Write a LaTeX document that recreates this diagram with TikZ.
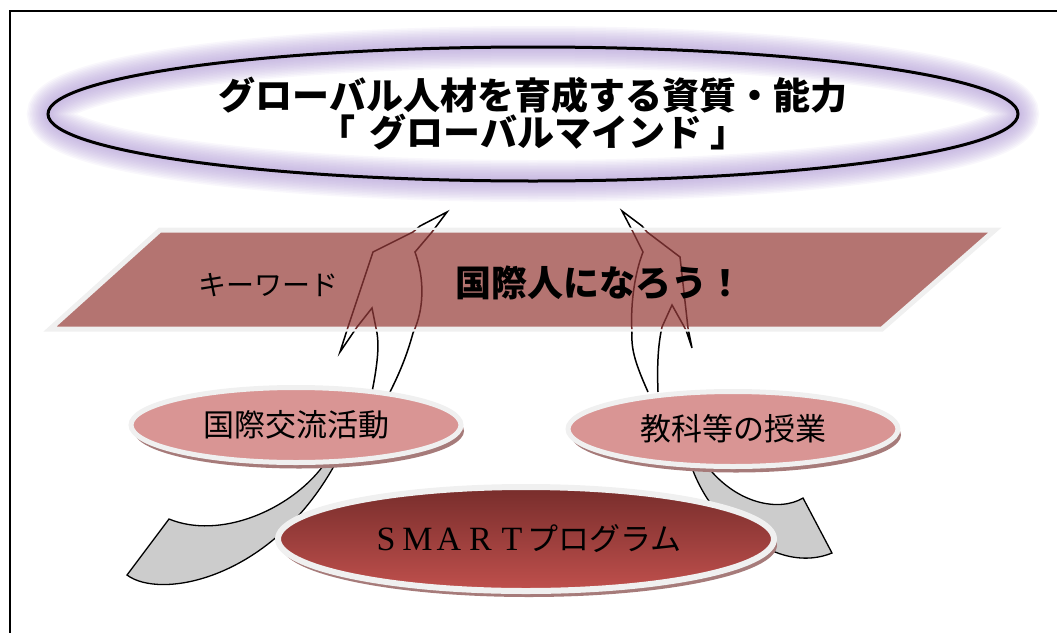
\documentclass[tikz,border=0pt]{standalone}
\usepackage{fontspec}
\setmainfont{Liberation Serif}
\newfontfamily\jp{Noto Sans CJK JP}
\usetikzlibrary{shapes.geometric,shadows}
\definecolor{glowc}{HTML}{AE98D4}
\definecolor{bandc}{HTML}{B47471}
\definecolor{rimc}{HTML}{F0F0F0}
\definecolor{pinkc}{HTML}{D99594}
\definecolor{shadc}{HTML}{A67B7A}
\definecolor{darkredc}{HTML}{772D2B}
\definecolor{redc}{HTML}{C0504D}
\definecolor{inlinec}{HTML}{6B2A2A}
\definecolor{grayc}{HTML}{CCCCCC}
\newcommand\fwl[1]{\makebox[31.5pt]{#1}}
\begin{document}
\begin{tikzpicture}[x=1pt,y=-1pt,
  goalnode/.style={ellipse, draw=black, line width=3pt, minimum width=970pt,
    minimum height=134pt, inner sep=0pt, align=center,
    font=\jp\bfseries\fontsize{37pt}{37pt}\selectfont},
  glowline/.style={draw=glowc, line width=#1},
  actnode/.style={ellipse, fill=pinkc, draw=rimc, line width=5pt,
    minimum width=330pt, minimum height=75pt, inner sep=0pt,
    drop shadow={shadow xshift=3pt, shadow yshift=-6pt, fill=shadc, opacity=1},
    font=\jp\fontsize{31pt}{31pt}\selectfont},
  smartnode/.style={ellipse, top color=darkredc, bottom color=redc, draw=rimc,
    line width=6pt, minimum width=496pt, minimum height=104pt, inner sep=0pt,
    drop shadow={shadow xshift=3pt, shadow yshift=-6pt, fill=shadc, opacity=1}},
  bandtext/.style={inner sep=0pt, font=\jp\fontsize{28pt}{28pt}\selectfont},
  bandtitle/.style={inner sep=0pt, font=\jp\bfseries\fontsize{36pt}{36pt}\selectfont},
  outlinearrow/.style={draw=black, line width=1.5pt, line join=miter},
  grayarrow/.style={fill=grayc, draw=black, line width=1.3pt},
  arrowApath/.style={insert path={
    (372,392) .. controls (378,362) and (379,345) .. (377,333) -- (372,308)
    -- (357,327) -- (340,352) -- (348,327) -- (373,252) -- (413,232)
    -- (420,226) -- (447,212) -- (432,232) -- (415,252)
    .. controls (425,280) and (424,310) .. (413,333)
    .. controls (407,355) and (400,372) .. (390,392)}},
  arrowBpath/.style={insert path={
    (648,392) .. controls (636,365) and (631,350) .. (632,333)
    .. controls (630,300) and (636,270) .. (643,252) -- (633,232)
    -- (622,211) -- (642,226) -- (647,232) -- (680,257) -- (688,328)
    -- (692,348) -- (686,330) -- (672,305) -- (662,327)
    .. controls (658,345) and (657,365) .. (658,392)}}
]
\useasboundingbox (0,0) rectangle (1057,632);
% frame
\draw[line width=2pt] (10,650) -- (10,11) -- (1070,11);

% soft glow of the top ellipse
\foreach \i in {1,...,14} {
  \draw[glowline=3*\i pt, opacity=0.075] (533,114) ellipse [x radius=485, y radius=67];
}
\node[goalnode] (goal) at (533,114)
  {グローバル人材を育成する資質・能力\\「\hspace{14pt}グローバルマインド\hspace{8pt}」};

% curved outline arrows
\draw[outlinearrow, arrowApath];
\draw[outlinearrow, arrowBpath];

% keyword band
\coordinate (p1) at (160,230);
\coordinate (p2) at (995,230);
\coordinate (p3) at (882,329);
\coordinate (p4) at (50,329);
\draw[fill=bandc, draw=rimc, line width=5pt] (p1) -- (p2) -- (p3) -- (p4) -- cycle;
\begin{scope}
  \clip (p1) -- (p2) -- (p3) -- (p4) -- cycle;
  \draw[outlinearrow, draw=inlinec, arrowApath];
  \draw[outlinearrow, draw=inlinec, arrowBpath];
\end{scope}
\node[bandtext] (kw) at (268,285) {キーワード};
\node[bandtitle] (kt) at (599,283) {国際人になろう！};

% gray curved arrows
\draw[grayarrow] (323,466) .. controls (290,510) and (220,540) .. (169,519)
  -- (127,575) .. controls (160,600) and (270,580) .. (334,466) -- cycle;
\draw[grayarrow] (690,462) .. controls (700,495) and (730,540) .. (775,552)
  .. controls (795,560) and (815,560) .. (832,553) -- (803,498)
  .. controls (780,512) and (735,505) .. (704,462) -- cycle;

% activity ellipses
\node[actnode] (intl) at (296,425) {国際交流活動};
\node[actnode] (cls) at (733,429) {教科等の授業};

% SMART program
\node[smartnode] (smart) at (526,539)
  {\raisebox{-8pt}{\fontsize{34pt}{34pt}\selectfont\fwl{S}\fwl{M}\fwl{A}\fwl{R}\fwl{T}\jp\fontsize{31pt}{31pt}\selectfont プログラム}};
\end{tikzpicture}
\end{document}
